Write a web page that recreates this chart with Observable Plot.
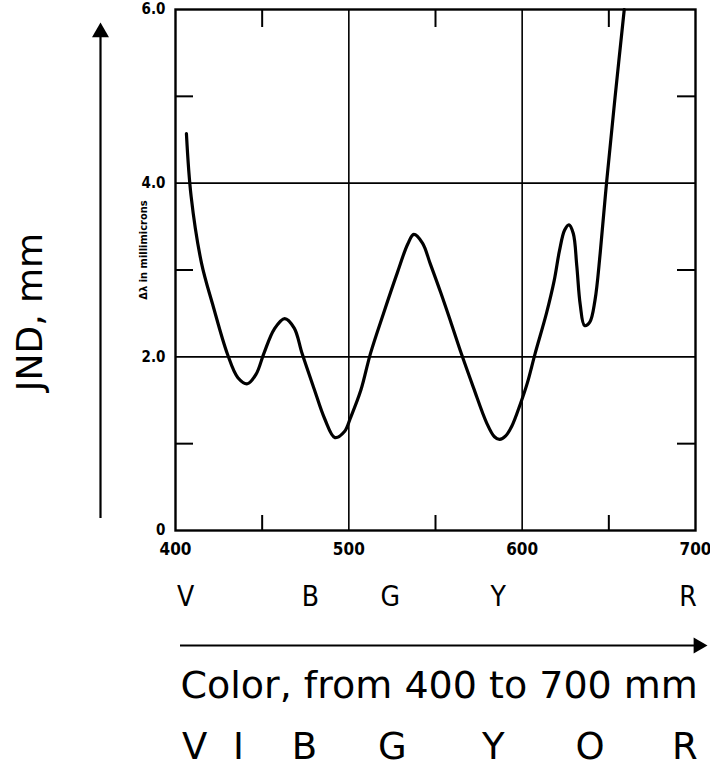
<!DOCTYPE html>
<html>
<head>
<meta charset="utf-8">
<script src="https://cdn.jsdelivr.net/npm/d3@7"></script>
<script src="https://cdn.jsdelivr.net/npm/@observablehq/plot@0.6"></script>
<style>
  html, body { margin: 0; padding: 0; background: #fff; }
  #chart svg { display: block; }
</style>
</head>
<body>
<div id="chart"></div>
<script>
// Wavelength (nm) and just-noticeable difference Δλ (millimicrons)
const wavelength = [406.3, 409.0, 415.0, 421.5, 430.0, 436.0, 441.5, 446.5, 451.0, 457.0,
  463.0, 468.5, 473.0, 480.0, 486.0, 492.0, 497.5, 501.0, 507.0, 512.5,
  520.0, 528.0, 534.0, 537.5, 542.5, 547.0, 553.0, 559.0, 565.2, 572.0,
  579.5, 584.0, 587.0, 590.5, 594.0, 599.0, 603.0, 607.5, 614.0, 618.5,
  621.5, 624.5, 627.0, 629.5, 631.5, 633.5, 636.0, 639.0, 642.0, 645.0,
  648.8, 653.6, 658.9];
const jnd = [4.57, 3.85, 3.08, 2.60, 2.03, 1.76, 1.69, 1.80, 2.04, 2.32,
  2.44, 2.33, 2.04, 1.63, 1.29, 1.07, 1.14, 1.30, 1.62, 2.04,
  2.50, 2.97, 3.30, 3.41, 3.31, 3.07, 2.74, 2.39, 2.02, 1.64,
  1.24, 1.08, 1.05, 1.09, 1.20, 1.46, 1.70, 2.04, 2.50, 2.88,
  3.22, 3.46, 3.52, 3.42, 3.05, 2.60, 2.36, 2.40, 2.65, 3.19,
  4.03, 4.99, 6.00];

const xMajorTicks = [400, 500, 600, 700];
const xMinorTicks = [450, 550, 650];
const yMajorTicks = [0, 2, 4, 6];
const yMinorTicks = [1, 3, 5];
const xGrid = [500, 600];
const yGrid = [2, 4];

// colour initials printed under the original scan
const scanLetters = ["V", "B", "G", "Y", "R"];
const scanLetterWl = [405.8, 477.8, 523.9, 586.2, 695.7];
// spectrum initials at the bottom
const bandLetters = ["V", "I", "B", "G", "Y", "O", "R"];
const bandLetterWl = [411.0, 436.3, 474.4, 525.1, 583.3, 639.2, 693.9];

const yAxisLabel = "Δλ in millimicrons";
const sideLabel = "JND, mm";
const bottomLabel = "Color, from 400 to 700 mm";

const data = wavelength.map((w, i) => ({w, v: jnd[i]}));
const scanRows = scanLetters.map((t, i) => ({t, w: scanLetterWl[i]}));
const bandRows = bandLetters.map((t, i) => ({t, w: bandLetterWl[i]}));

const W = 710, H = 770;
const mL = 175, mR = 15, mT = 9, mB = 240;
const innerW = W - mL - mR, innerH = H - mT - mB;

const cond = "'DejaVu Sans Condensed', 'DejaVu Sans', sans-serif";
const sans = "'DejaVu Sans', sans-serif";

const chart = Plot.plot({
  width: W, height: H,
  marginLeft: mL, marginRight: mR, marginTop: mT, marginBottom: mB,
  x: {domain: [400, 700], axis: null},
  y: {domain: [0, 6], axis: null},
  style: {background: "#fff", color: "#000", fontFamily: sans},
  marks: [
    Plot.ruleX(xGrid, {stroke: "#000", strokeWidth: 1.6}),
    Plot.ruleY(yGrid, {stroke: "#000", strokeWidth: 1.6}),
    // inward minor ticks
    Plot.tickX(xMinorTicks, {stroke: "#000", strokeWidth: 2, insetTop: innerH - 15}),
    Plot.tickX(xMinorTicks, {stroke: "#000", strokeWidth: 2, insetBottom: innerH - 18}),
    Plot.tickY(yMinorTicks, {stroke: "#000", strokeWidth: 2, insetRight: innerW - 18}),
    Plot.tickY(yMinorTicks, {stroke: "#000", strokeWidth: 2, insetLeft: innerW - 18}),
    Plot.frame({stroke: "#000", strokeWidth: 2.4}),
    Plot.line(data, {x: "w", y: "v", curve: "catmull-rom", stroke: "#000", strokeWidth: 3.2}),
    Plot.axisX(xMajorTicks, {anchor: "bottom", tickSize: 0, tickPadding: 12, label: null,
      fontSize: 17, fontWeight: "bold", fontFamily: cond}),
    Plot.axisY(yMajorTicks, {anchor: "left", tickSize: 0, tickPadding: 10, label: null,
      tickFormat: d => d === 0 ? "0" : d.toFixed(1),
      fontSize: 15, fontWeight: "bold", fontFamily: cond}),
    Plot.text([yAxisLabel], {frameAnchor: "left", textAnchor: "middle", lineAnchor: "middle",
      dx: -32, dy: -20, rotate: -90,
      fontSize: 11, fontWeight: "bold", fontFamily: cond}),
    Plot.text([sideLabel], {frameAnchor: "left", textAnchor: "middle", lineAnchor: "middle",
      dx: -145, dy: 42, rotate: -90,
      fontSize: 36, fontFamily: sans}),
    // vertical arrow
    Plot.ruleX([400], {dx: -75, insetTop: 22, insetBottom: 12, stroke: "#000", strokeWidth: 2.2}),
    Plot.dot([0], {frameAnchor: "top-left", dx: -75, dy: 13 + 9.8, symbol: "triangle",
      r: 6.3, fill: "#000", stroke: "none"}),
    // colour initials from the scan
    Plot.text(scanRows, {x: "w", text: "t", frameAnchor: "bottom", lineAnchor: "middle", dy: 67,
      fontSize: 28, fontFamily: cond}),
    // horizontal arrow
    Plot.ruleY([0], {dy: 115, insetLeft: 5, insetRight: -4, stroke: "#000", strokeWidth: 2.2}),
    Plot.dot([0], {frameAnchor: "bottom-right", dx: 12 - 9.24, dy: 115, symbol: "triangle",
      rotate: 90, r: 5.94, fill: "#000", stroke: "none"}),
    Plot.text([bottomLabel], {frameAnchor: "bottom-left", lineAnchor: "middle", dx: 5, dy: 155.8,
      textAnchor: "start", fontSize: 38, fontFamily: sans}),
    Plot.text(bandRows, {x: "w", text: "t", frameAnchor: "bottom", lineAnchor: "middle", dy: 217,
      fontSize: 37, fontFamily: sans})
  ]
});
document.getElementById("chart").appendChild(chart);
</script>
</body>
</html>
